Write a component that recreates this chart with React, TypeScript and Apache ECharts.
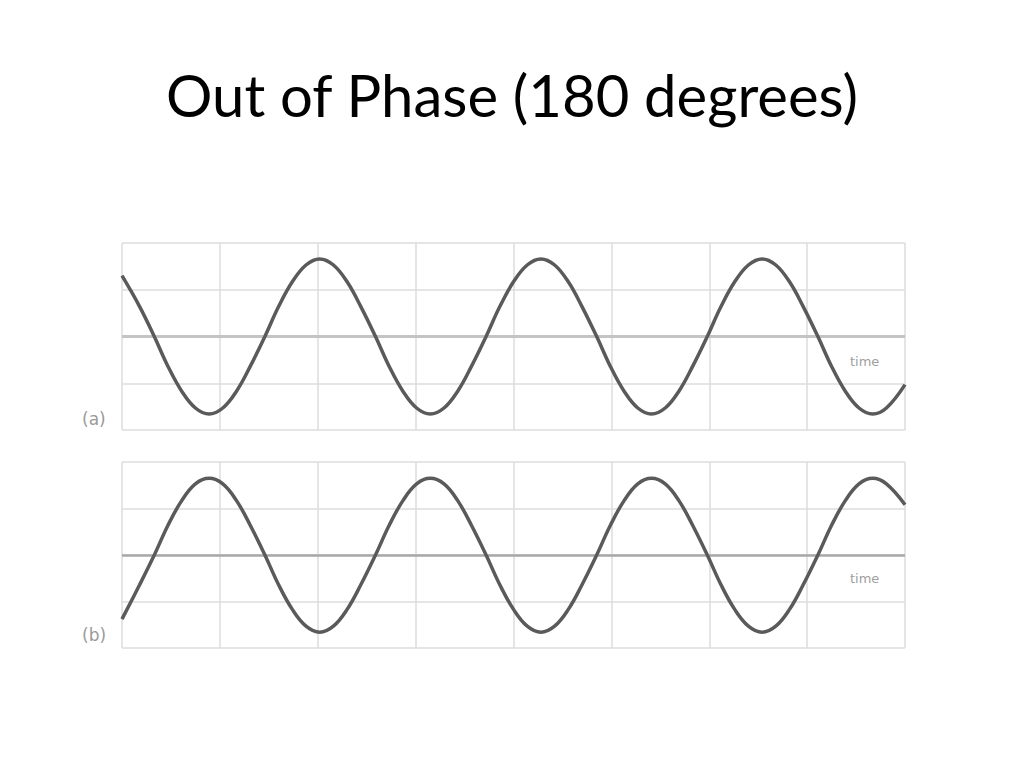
import React, { useEffect, useRef } from "react";
import * as echarts from "echarts";

const titleText = "Out of Phase (180 degrees)";
const panelLabels = ["(a)", "(b)"];
const axisNote = "time";

// sample times (grid divisions)
const times: number[] = [
  0.0, 0.18, 0.33, 0.47, 0.61, 0.75, 0.89, 1.03, 1.17, 1.31, 1.46, 1.6, 1.74, 1.88,
  2.02, 2.16, 2.3, 2.44, 2.59, 2.73, 2.87, 3.01, 3.15, 3.29, 3.43, 3.57, 3.72, 3.86,
  4.0, 4.14, 4.28, 4.42, 4.56, 4.7, 4.85, 4.99, 5.13, 5.27, 5.41, 5.55, 5.69, 5.83,
  5.98, 6.12, 6.26, 6.4, 6.54, 6.68, 6.82, 6.96, 7.11, 7.25, 7.39, 7.53, 7.67, 7.81, 8.0,
];

// wave (a) amplitude (grid divisions)
const waveAValues: number[] = [
  1.3, 0.64, 0.0, -0.64, -1.17, -1.53, -1.66, -1.53, -1.17, -0.64, 0.0, 0.64, 1.17, 1.53,
  1.66, 1.53, 1.17, 0.64, 0.0, -0.64, -1.17, -1.53, -1.66, -1.53, -1.17, -0.64, 0.0, 0.64,
  1.17, 1.53, 1.66, 1.53, 1.17, 0.64, 0.0, -0.64, -1.17, -1.53, -1.66, -1.53, -1.17, -0.64,
  0.0, 0.64, 1.17, 1.53, 1.66, 1.53, 1.17, 0.64, 0.0, -0.64, -1.17, -1.53, -1.66, -1.53, -1.03,
];

// wave (b) amplitude (grid divisions), 180 degrees out of phase with (a)
const waveBValues: number[] = [
  -1.38, -0.64, 0.0, 0.64, 1.17, 1.53, 1.65, 1.53, 1.17, 0.64, 0.0, -0.64, -1.17, -1.53,
  -1.66, -1.53, -1.17, -0.64, 0.0, 0.64, 1.17, 1.53, 1.65, 1.53, 1.17, 0.64, 0.0, -0.64,
  -1.17, -1.53, -1.66, -1.53, -1.17, -0.64, 0.0, 0.64, 1.17, 1.53, 1.65, 1.53, 1.17, 0.64,
  0.0, -0.64, -1.17, -1.53, -1.66, -1.53, -1.17, -0.64, 0.0, 0.64, 1.17, 1.53, 1.65, 1.53, 1.08,
];

const xMin = 0;
const xMax = 8;
const yMin = -2;
const yMax = 2;

export default function App() {
  const ref = useRef<HTMLDivElement>(null);
  useEffect(() => {
    if (!ref.current) return;
    const chart = echarts.init(ref.current, null, { renderer: "svg" });
    const gridLine = { show: true, lineStyle: { color: "#dcdcdc", width: 1.5 } };
    const xAxisBase = (gridIndex: number) => ({
      type: "value" as const,
      gridIndex,
      min: xMin,
      max: xMax,
      interval: 1,
      axisLine: { show: false },
      axisTick: { show: false },
      axisLabel: { show: false },
      splitLine: gridLine,
    });
    const yAxisBase = (gridIndex: number) => ({
      type: "value" as const,
      gridIndex,
      min: yMin,
      max: yMax,
      interval: 1,
      axisLine: { show: false },
      axisTick: { show: false },
      axisLabel: { show: false },
      splitLine: gridLine,
    });
    const wave = (values: number[], idx: number, centerColor: string, centerWidth: number) => ({
      type: "line" as const,
      xAxisIndex: idx,
      yAxisIndex: idx,
      data: times.map((t, i) => [t, values[i]]),
      smooth: 0.4,
      symbol: "none",
      lineStyle: { color: "#5a5a5a", width: 3.5 },
      markLine: {
        silent: true,
        symbol: "none",
        label: { show: false },
        lineStyle: { color: centerColor, width: centerWidth, type: "solid" },
        data: [{ yAxis: 0 }],
        z: 1,
      },
    });
    chart.setOption({
      animation: false,
      backgroundColor: "#ffffff",
      title: {
        text: titleText,
        left: "center",
        top: 60,
        textStyle: {
          fontFamily: "Lato",
          fontWeight: "normal",
          fontSize: 58,
          color: "#000000",
        },
      },
      grid: [
        { left: 122, top: 243, width: 783, height: 187 },
        { left: 122, top: 462, width: 783, height: 186 },
      ],
      xAxis: [xAxisBase(0), xAxisBase(1)],
      yAxis: [yAxisBase(0), yAxisBase(1)],
      series: [wave(waveAValues, 0, "#c4c4c4", 3), wave(waveBValues, 1, "#a8a8a8", 2.5)],
      graphic: [
        {
          type: "text",
          left: 82,
          top: 410,
          style: { text: panelLabels[0], fill: "#9a9a9a", fontSize: 17, fontFamily: "DejaVu Sans" },
        },
        {
          type: "text",
          left: 82,
          top: 626,
          style: { text: panelLabels[1], fill: "#9a9a9a", fontSize: 17, fontFamily: "DejaVu Sans" },
        },
        {
          type: "text",
          left: 850,
          top: 355,
          style: { text: axisNote, fill: "#a0a0a0", fontSize: 13, fontFamily: "DejaVu Sans" },
        },
        {
          type: "text",
          left: 850,
          top: 572,
          style: { text: axisNote, fill: "#a0a0a0", fontSize: 13, fontFamily: "DejaVu Sans" },
        },
      ],
    });
    return () => chart.dispose();
  }, []);
  return (
    <div
      ref={ref}
      style={{ position: "fixed", left: 0, top: 0, width: 1024, height: 768, background: "#fff" }}
    />
  );
}
